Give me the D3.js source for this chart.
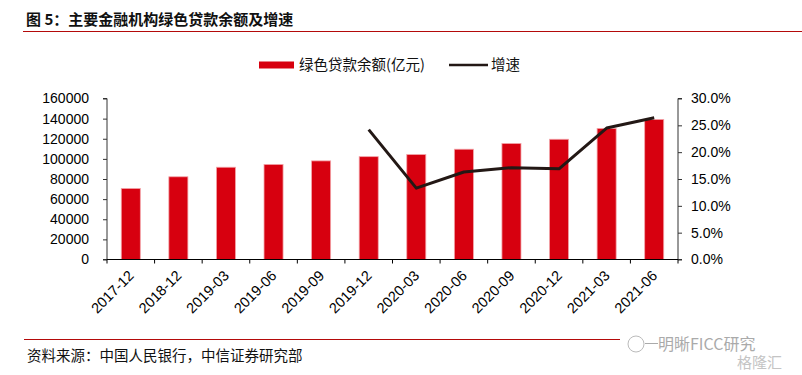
<!DOCTYPE html>
<html>
<head>
<meta charset="utf-8">
<script src="https://cdn.jsdelivr.net/npm/d3@7"></script>
<style>
  body { margin: 0; background: #fff; }
  svg text { font-family: "Liberation Sans", Arial, "Noto Sans CJK SC", sans-serif; }
  .cjk { font-family: "Noto Sans CJK SC", sans-serif; }
</style>
</head>
<body>
<div id="chart"></div>
<script>
// data
var months = ["2017-12", "2018-12", "2019-03", "2019-06", "2019-09", "2019-12",
  "2020-03", "2020-06", "2020-09", "2020-12", "2021-03", "2021-06"];
var balance = [70600, 82200, 91700, 94500, 98000, 102200, 104300, 109600, 115300, 119500, 130300, 139200];
var growth = [null, null, null, null, null, 24.2, 13.3, 16.3, 17.1, 16.9, 24.5, 26.4];
var leftTicks = [0, 20000, 40000, 60000, 80000, 100000, 120000, 140000, 160000];
var rightTicks = [0, 5, 10, 15, 20, 25, 30];

var W = 802, H = 375;
var plotL = 107, plotR = 678, plotT = 98.5, plotB = 259.5;

var svg = d3.select("#chart").append("svg")
  .attr("width", W)
  .attr("height", H);

// title
svg.append("text")
  .attr("class", "cjk")
  .attr("x", 26)
  .attr("y", 25)
  .attr("font-size", 15)
  .attr("font-weight", "bold")
  .attr("fill", "#111")
  .text("图 5：主要金融机构绿色贷款余额及增速");
svg.append("line")
  .attr("x1", 23).attr("x2", W)
  .attr("y1", 31.5).attr("y2", 31.5)
  .attr("stroke", "#b40a0a")
  .attr("stroke-width", 1.2);

var x = d3.scaleBand()
  .domain(months)
  .range([plotL, plotR])
  .paddingInner(0.6)
  .paddingOuter(0.3);

var y = d3.scaleLinear().domain([0, 160000]).range([plotB, plotT]);
var y2 = d3.scaleLinear().domain([0, 30]).range([plotB, plotT]);

// bars
svg.append("g")
  .selectAll("rect")
  .data(balance)
  .enter()
  .append("rect")
  .attr("x", function (d, i) { return x(months[i]); })
  .attr("y", function (d) { return y(d); })
  .attr("width", x.bandwidth())
  .attr("height", function (d) { return plotB - y(d); })
  .attr("fill", "#d7000f")
  .attr("stroke", "#f3a3a8")
  .attr("stroke-width", 0.8);

// growth line
var line = d3.line()
  .defined(function (d) { return d != null; })
  .x(function (d, i) { return x(months[i]) + x.bandwidth() / 2; })
  .y(function (d) { return y2(d); });

svg.append("path")
  .datum(growth)
  .attr("d", line)
  .attr("fill", "none")
  .attr("stroke", "#231815")
  .attr("stroke-width", 3)
  .attr("stroke-linejoin", "round");

// left axis
var yAxis = svg.append("g")
  .attr("transform", "translate(" + plotL + ",0)")
  .call(d3.axisLeft(y).tickValues(leftTicks).tickSize(4).tickPadding(14).tickFormat(d3.format("d")));
yAxis.selectAll("text").attr("font-size", 14).attr("fill", "#000");
yAxis.select(".domain").attr("d", "M-4," + plotT + "H0V" + plotB + "H-4").attr("stroke", "#333");
yAxis.selectAll(".tick line").attr("stroke", "#333");

// right axis
var y2Axis = svg.append("g")
  .attr("transform", "translate(" + plotR + ",0)")
  .call(d3.axisRight(y2).tickValues(rightTicks).tickSize(4).tickPadding(9)
    .tickFormat(function (d) { return d.toFixed(1) + "%"; }));
y2Axis.selectAll("text").attr("font-size", 14).attr("fill", "#000");
y2Axis.select(".domain").attr("d", "M4," + plotT + "H0V" + plotB + "H4").attr("stroke", "#333");
y2Axis.selectAll(".tick line").attr("stroke", "#333");

// bottom axis with ticks at category boundaries
var xg = svg.append("g");
xg.append("line")
  .attr("x1", plotL).attr("x2", plotR)
  .attr("y1", plotB).attr("y2", plotB)
  .attr("stroke", "#000");
xg.selectAll(".bt")
  .data(d3.range(months.length + 1))
  .enter()
  .append("line")
  .attr("x1", function (i) { return plotL + i * x.step(); })
  .attr("x2", function (i) { return plotL + i * x.step(); })
  .attr("y1", plotB).attr("y2", plotB + 4)
  .attr("stroke", "#000");
xg.selectAll(".lbl")
  .data(months)
  .enter()
  .append("text")
  .attr("transform", function (d) {
    return "translate(" + (x(d) + x.bandwidth() / 2 + 4) + "," + (plotB + 17) + ") rotate(-45)";
  })
  .attr("text-anchor", "end")
  .attr("font-size", 14.5)
  .attr("fill", "#000")
  .text(function (d) { return d; });

// legend
var lg = svg.append("g");
lg.append("rect")
  .attr("x", 259).attr("y", 61.5)
  .attr("width", 35).attr("height", 7)
  .attr("fill", "#d7000f");
lg.append("text")
  .attr("class", "cjk")
  .attr("x", 299).attr("y", 70)
  .attr("font-size", 14.5)
  .attr("fill", "#111")
  .text("绿色贷款余额(亿元)");
lg.append("line")
  .attr("x1", 449).attr("x2", 488)
  .attr("y1", 65).attr("y2", 65)
  .attr("stroke", "#231815")
  .attr("stroke-width", 2.5);
lg.append("text")
  .attr("class", "cjk")
  .attr("x", 491).attr("y", 70)
  .attr("font-size", 14.5)
  .attr("fill", "#111")
  .text("增速");

// footer
svg.append("line")
  .attr("x1", 24).attr("x2", 620)
  .attr("y1", 339.5).attr("y2", 339.5)
  .attr("stroke", "#b40a0a")
  .attr("stroke-width", 1.2);
svg.append("text")
  .attr("class", "cjk")
  .attr("x", 27).attr("y", 361)
  .attr("font-size", 14.5)
  .attr("fill", "#111")
  .text("资料来源：中国人民银行，中信证券研究部");

// watermark
svg.append("circle")
  .attr("cx", 636).attr("cy", 344).attr("r", 8)
  .attr("fill", "none").attr("stroke", "#bbb");
svg.append("line")
  .attr("x1", 645).attr("x2", 658)
  .attr("y1", 343.5).attr("y2", 343.5)
  .attr("stroke", "#aaa");
svg.append("text")
  .attr("class", "cjk")
  .attr("x", 658).attr("y", 350)
  .attr("font-size", 16)
  .attr("fill", "#aaa")
  .text("明晰FICC研究");
svg.append("text")
  .attr("class", "cjk")
  .attr("x", 737).attr("y", 368)
  .attr("font-size", 15)
  .attr("fill", "#c4c4c4")
  .text("格隆汇");
</script>
</body>
</html>
